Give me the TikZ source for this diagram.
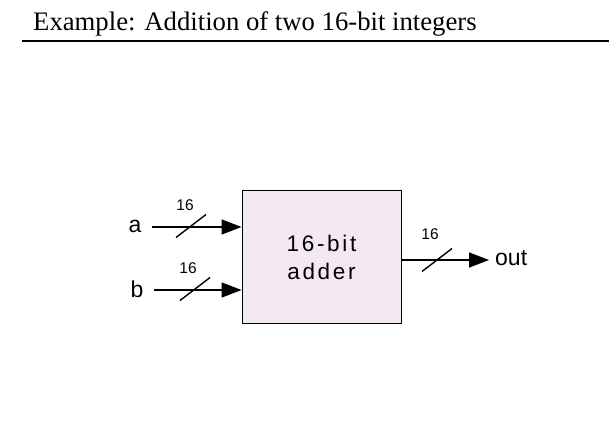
\documentclass[tikz,border=0pt]{standalone}
\usepackage{fontspec}
\setmainfont{Liberation Serif}
\newfontfamily\arialf{Liberation Sans}
\usetikzlibrary{arrows.meta}
\definecolor{boxfill}{RGB}{244,232,242}
\tikzset{
  x=1pt, y=-1pt,
  bus/.style={line width=1.4pt, -{Triangle[length=20pt,width=15pt]}},
  slash/.style={line width=1.4pt},
  widthlbl/.style={font=\arialf\fontsize{15.5}{17}\selectfont, inner sep=0pt},
  portlbl/.style={font=\arialf\fontsize{23}{25}\selectfont, inner sep=0pt},
  blockbox/.style={draw, line width=0.9pt, fill=boxfill, minimum width=159pt, minimum height=133pt, inner sep=0pt,
    align=center, font=\arialf\addfontfeature{LetterSpace=12}\fontsize{22.5}{28}\selectfont}
}
\begin{document}
\begin{tikzpicture}
\useasboundingbox (0,0) rectangle (609,431);
\node[anchor=base west, inner sep=0pt, font=\fontsize{26.7}{30}\selectfont] (title) at (33,30) {Example: Addition of two 16-bit integers};
\coordinate (ruleL) at (22,41);
\coordinate (ruleR) at (609,41);
\draw[line width=1.3pt] (ruleL) -- (ruleR);

\node[blockbox] (adder) at (321.5,257) {16-bit\\adder};

% input a
\node[portlbl] (a) at (135,226) {a};
\coordinate (astart) at (152,227);
\coordinate (aend) at (adder.west |- astart);
\draw[bus] (astart) -- (aend);
\coordinate (aslash) at (191,226);
\draw[slash] ([shift={(-15,11.5)}]aslash) -- ([shift={(15,-11.5)}]aslash);
\node[widthlbl] (wa) at (185,205) {16};

% input b
\node[portlbl] (b) at (137,289) {b};
\coordinate (bstart) at (154,290);
\coordinate (bend) at (adder.west |- bstart);
\draw[bus] (bstart) -- (bend);
\coordinate (bslash) at (195,289);
\draw[slash] ([shift={(-15,11.5)}]bslash) -- ([shift={(15,-11.5)}]bslash);
\node[widthlbl] (wb) at (188,268) {16};

% output
\coordinate (ostart) at (adder.east |- 0,260);
\coordinate (oend) at (489,260);
\draw[bus] (ostart) -- (oend);
\coordinate (oslash) at (437,260);
\draw[slash] ([shift={(-15,11.5)}]oslash) -- ([shift={(15,-11.5)}]oslash);
\node[widthlbl] (wo) at (430,234) {16};
\node[portlbl, anchor=west] (out) at (495,258) {out};
\end{tikzpicture}
\end{document}
